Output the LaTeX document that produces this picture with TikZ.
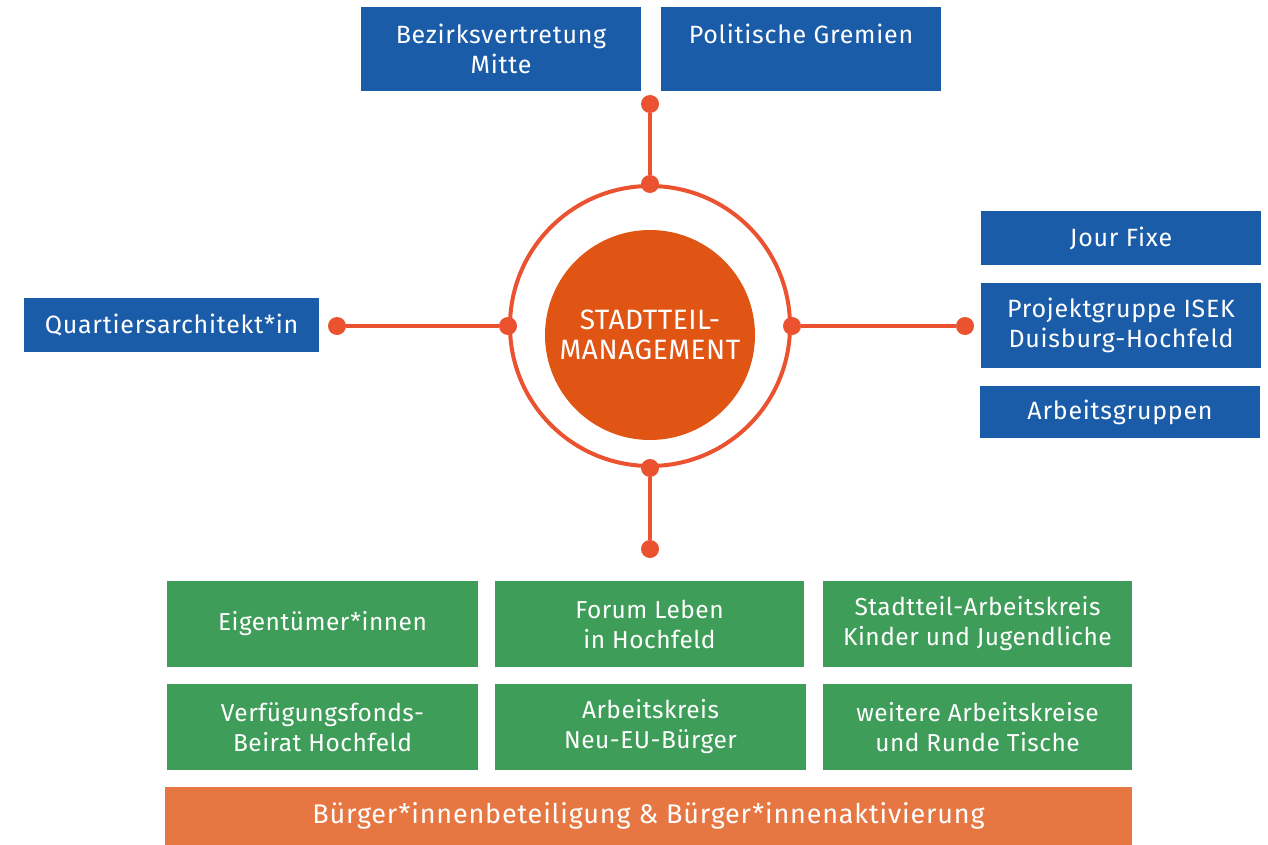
\documentclass[tikz,border=0pt]{standalone}
\usepackage{fontspec}
\setmainfont{Fira Sans}[LetterSpace=3]
\definecolor{boxblue}{HTML}{1B5CA8}
\definecolor{boxgreen}{HTML}{3E9D58}
\definecolor{bargold}{HTML}{E67742}
\definecolor{coreorange}{HTML}{E05414}
\definecolor{linered}{HTML}{EA5230}
\tikzset{
  lbl/.style={text=white, inner sep=0pt, align=center, font=\fontsize{25}{30}\selectfont},
  bluebox/.style={lbl, fill=boxblue},
  greenbox/.style={lbl, fill=boxgreen, font=\fontsize{24.5}{30}\selectfont\addfontfeatures{LetterSpace=2}},
  dotnode/.style={circle, fill=linered, minimum size=18pt, inner sep=0pt},
  conn/.style={draw=linered, line width=4pt},
}
\begin{document}
\begin{tikzpicture}[x=1pt,y=-1pt]
\useasboundingbox (0,0) rectangle (1268,845);
% top boxes
\node[bluebox, minimum width=280pt, minimum height=84pt] (bez) at (501,49) {Bezirksvertretung\\Mitte};
\node[bluebox, minimum width=280pt, minimum height=84pt] (pol) at (801,49) {Politische Gremien\\\vphantom{Mitte}};
% left
\node[bluebox, minimum width=295pt, minimum height=54pt] (qua) at (171.5,325) {Quartiersarchitekt*in};
% right
\node[bluebox, minimum width=280pt, minimum height=54pt] (jour) at (1121,238) {Jour Fixe};
\node[bluebox, minimum width=280pt, minimum height=85pt] (proj) at (1121,325.5) {Projektgruppe ISEK\\Duisburg-Hochfeld};
\node[bluebox, minimum width=280pt, minimum height=52pt] (arb) at (1120,412) {Arbeitsgruppen};
% center
\node[circle, draw=linered, line width=4pt, minimum size=280pt, inner sep=0pt] (ring) at (650,326) {};
\node[circle, fill=coreorange, minimum size=210pt, inner sep=0pt, text=white, align=center,
      font=\fontsize{28}{30}\selectfont\addfontfeatures{LetterSpace=2}] (core) at (650,335) {STADTTEIL-\\MANAGEMENT};
% dots
\node[dotnode] (dtop) at (650,104) {};
\node[dotnode] (rtop) at (ring.north) {};
\node[dotnode] (dleft) at (337,326) {};
\node[dotnode] (rleft) at (ring.west) {};
\node[dotnode] (dright) at (965,326) {};
\node[dotnode] (rright) at (ring.east) {};
\node[dotnode] (dbot) at (650,549) {};
\node[dotnode] (rbot) at (ring.south) {};
\draw[conn] (dtop) -- (rtop);
\draw[conn] (dleft) -- (rleft);
\draw[conn] (rright) -- (dright);
\draw[conn] (rbot) -- (dbot);
% green boxes
\node[greenbox, minimum width=311pt, minimum height=86pt] (eig) at (322.5,624) {Eigentümer*innen};
\node[greenbox, minimum width=309pt, minimum height=86pt] (for) at (649.5,624) {Forum Leben\\in Hochfeld};
\node[greenbox, minimum width=309pt, minimum height=86pt] (sak) at (977.5,624) {Stadtteil-Arbeitskreis\\Kinder und Jugendliche};
\node[greenbox, minimum width=311pt, minimum height=86pt] (ver) at (322.5,727) {Verfügungsfonds-\\Beirat Hochfeld};
\node[greenbox, minimum width=311pt, minimum height=86pt] (neu) at (650.5,727) {Arbeitskreis\\Neu-EU-Bürger};
\node[greenbox, minimum width=309pt, minimum height=86pt] (wei) at (977.5,727) {weitere Arbeitskreise\\und Runde Tische};
% bar
\node[lbl, fill=bargold, minimum width=967pt, minimum height=58pt, font=\fontsize{27}{30}\selectfont] (bar) at (648.5,816) {Bürger*innenbeteiligung \& Bürger*innenaktivierung};
\end{tikzpicture}
\end{document}
